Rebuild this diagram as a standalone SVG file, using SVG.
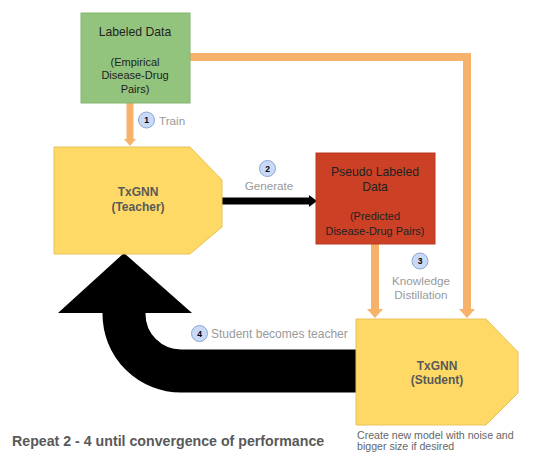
<svg xmlns="http://www.w3.org/2000/svg" width="541" height="461" viewBox="0 0 541 461">
<style>
.t{font-family:"Liberation Sans",Arial,sans-serif;font-size:12.2px;fill:#222;text-anchor:middle}
.s{font-family:"Liberation Sans",Arial,sans-serif;font-size:11px;fill:#222;text-anchor:middle}
.b{font-family:"Liberation Sans",Arial,sans-serif;font-size:12px;font-weight:bold;fill:#595959;text-anchor:middle}
.g{font-family:"Liberation Sans",Arial,sans-serif;font-size:11.7px;fill:#999}
.n{font-family:"Liberation Sans",Arial,sans-serif;font-size:8.5px;font-weight:bold;fill:#000;text-anchor:middle}
.c{fill:#c9daf8;stroke:#8ea6cf;stroke-width:1}
.o{fill:none;stroke:#f6b26b;stroke-width:8}
.oh{fill:#f6b26b}
</style>
<rect width="541" height="461" fill="#fff"/>
<g id="connectors">
<line class="o" x1="130" y1="103" x2="130" y2="140" style="stroke-width:7"/>
<polygon class="oh" points="124,139 136,139 130,146"/>
<polyline class="o" points="190,57 467,57 467,310"/>
<polygon class="oh" points="459,309 475,309 467,318"/>
<line class="o" x1="375" y1="244" x2="375" y2="310"/>
<polygon class="oh" points="367,309 383,309 375,318"/>
<line x1="222" y1="201" x2="310" y2="201" stroke="#000" stroke-width="7"/>
<polygon points="309,195 317,201 309,207" fill="#000"/>
<path d="M357,371 H181 A57,57 0 0 1 124,314 V312" fill="none" stroke="#000" stroke-width="43"/>
<polygon points="58,313 124,253 192,313" fill="#000"/>
</g>
<g id="labeled-data">
<rect x="81" y="13" width="109" height="90" fill="#93c47d" stroke="#84b56e" stroke-width="1"/>
<text class="t" x="135" y="36">Labeled Data</text>
<text class="s" x="135" y="66">(Empirical</text>
<text class="s" x="135" y="79">Disease-Drug</text>
<text class="s" x="135" y="93">Pairs)</text>
</g>
<g id="teacher">
<polygon points="54,147 190,147 222,180 222,227 190,254 54,254" fill="#ffd966" stroke="#e6c35a" stroke-width="1"/>
<text class="b" x="138" y="196">TxGNN</text>
<text class="b" x="138" y="211">(Teacher)</text>
</g>
<g id="pseudo-labeled">
<rect x="316" y="153" width="119" height="91" fill="#cc4125" stroke="#b33a20" stroke-width="1"/>
<text class="t" x="375" y="176">Pseudo Labeled</text>
<text class="t" x="375" y="191">Data</text>
<text class="s" x="375" y="220">(Predicted</text>
<text class="s" x="375" y="235">Disease-Drug Pairs)</text>
</g>
<g id="student">
<polygon points="356,319 486,319 518,352 518,393 486,425 356,425" fill="#ffd966" stroke="#e6c35a" stroke-width="1"/>
<text class="b" x="437" y="370">TxGNN</text>
<text class="b" x="437" y="384">(Student)</text>
<text class="g" x="357" y="439" style="font-size:10.6px;fill:#666">Create new model with noise and</text>
<text class="g" x="357" y="450" style="font-size:10.6px;fill:#666">bigger size if desired</text>
</g>
<g id="step1">
<circle class="c" cx="146.5" cy="120" r="8"/>
<text class="n" x="146.5" y="123">1</text>
<text class="g" x="159" y="124.5">Train</text>
</g>
<g id="step2">
<circle class="c" cx="267.5" cy="168.5" r="8"/>
<text class="n" x="267.5" y="171.5">2</text>
<text class="g" x="269" y="189.5" style="text-anchor:middle">Generate</text>
</g>
<g id="step3">
<circle class="c" cx="420" cy="261" r="8"/>
<text class="n" x="420" y="264">3</text>
<text class="g" x="421" y="285" style="text-anchor:middle">Knowledge</text>
<text class="g" x="421" y="298.5" style="text-anchor:middle">Distillation</text>
</g>
<g id="step4">
<circle class="c" cx="199.5" cy="333.5" r="8"/>
<text class="n" x="199.5" y="336.5">4</text>
<text class="g" x="211" y="337.5" style="font-size:12px">Student becomes teacher</text>
</g>
<text x="12" y="446" style="font-family:'Liberation Sans',Arial,sans-serif;font-size:14.2px;font-weight:bold;fill:#595959">Repeat 2 - 4 until convergence of performance</text>
</svg>
